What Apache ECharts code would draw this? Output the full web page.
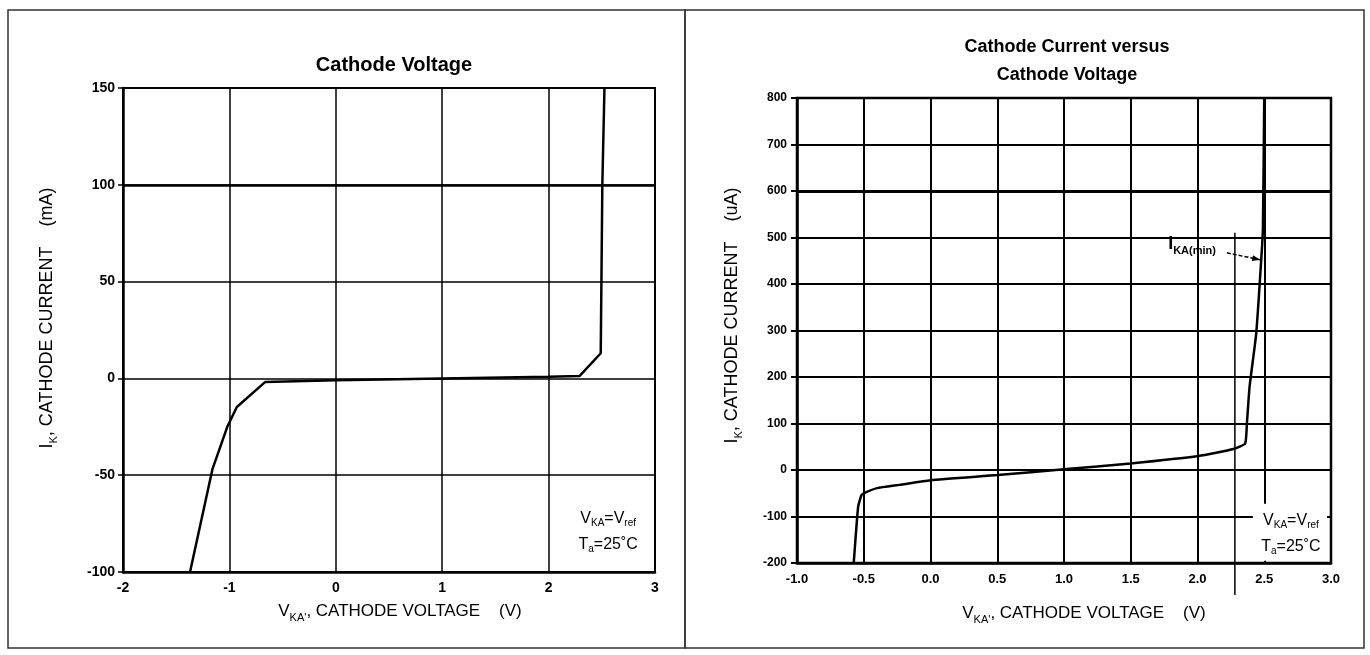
<!DOCTYPE html>
<html><head><meta charset="utf-8">
<script src="https://cdn.jsdelivr.net/npm/echarts@6/dist/echarts.min.js"></script>
<style>html,body{margin:0;padding:0;background:#fff}#c{width:1370px;height:655px}</style>
</head><body><div id="c"></div>
<script>
// Left chart (mA)
var leftVoltage = [-1.37, -1.16, -1.02, -0.93, -0.665, 0, 1, 2, 2.29, 2.49, 2.505, 2.525];
var leftCurrent = [-100, -47, -25, -14.8, -1.9, -1, 0, 0.8, 1.2, 13, 100, 150];
var leftXTicks = [-2, -1, 0, 1, 2, 3];
var leftYTicks = [-100, -50, 0, 50, 100, 150];
// Right chart (uA)
var rightVoltage = [-0.575, -0.542, -0.517, -0.493, -0.40, -0.231, 0, 0.502, 1.0, 1.498, 2.007, 2.27, 2.357, 2.37, 2.39, 2.44, 2.478, 2.49, 2.5];
var rightCurrent = [-200, -79, -54, -49, -39, -32, -22, -11, 1.5, 14, 30, 45, 57, 100, 179, 294, 455, 520, 800];
var rightXTicks = [-1.0, -0.5, 0.0, 0.5, 1.0, 1.5, 2.0, 2.5, 3.0];
var rightYTicks = [-200, -100, 0, 100, 200, 300, 400, 500, 600, 700, 800];
// Heavier grid lines in the original
var leftHeavyY = [100];
var rightHeavyY = [600];
// Annotations
var ikaMinVoltage = 2.28;
var ikaMinTop = 510;
var ikaLabelPos = [1.78, 485];
var ikaArrowFrom = [2.22, 467];
var ikaArrowTo = [2.47, 452];
var condLeftPos = [2.56, -79];
var condRightPos = [2.70, -137];

var FONT = 'Liberation Sans, Arial, sans-serif';
var NARROW = 'Liberation Sans Narrow, Liberation Sans, Arial, sans-serif';

function pairs(xs, ys) { return xs.map(function (x, i) { return [x, ys[i]]; }); }

function subRich(size) {
  return {
    n: { fontSize: size, fontFamily: FONT, color: '#000' },
    s: { fontSize: Math.round(size * 0.62), fontFamily: FONT, color: '#000', padding: [Math.round(size * 0.7), 0, 0, 0] }
  };
}

var chart = echarts.init(document.getElementById('c'), null, { renderer: 'canvas' });

chart.setOption({
  animation: false,
  backgroundColor: '#fff',
  title: [
    { text: 'Cathode Voltage', left: 389, top: 50, textAlign: 'center',
      textStyle: { fontSize: 20, fontWeight: 'bold', fontFamily: NARROW, color: '#000' } },
    { text: 'Cathode Current versus\nCathode Voltage', left: 1062, top: 28, textAlign: 'center',
      textStyle: { fontSize: 18, fontWeight: 'bold', fontFamily: NARROW, color: '#000', lineHeight: 28 } }
  ],
  grid: [
    { left: 123, top: 88, width: 532, height: 484, show: true, borderColor: '#000', borderWidth: 2, containLabel: false },
    { left: 797, top: 98, width: 534, height: 465, show: true, borderColor: '#000', borderWidth: 2.5, containLabel: false }
  ],
  xAxis: [
    { type: 'value', gridIndex: 0, min: leftXTicks[0], max: leftXTicks[leftXTicks.length - 1], interval: 1,
      axisLine: { onZero: false, lineStyle: { color: '#000', width: 2.5 } },
      axisTick: { show: false },
      axisLabel: { color: '#000', fontSize: 14, fontFamily: NARROW, fontWeight: 'bold', margin: 9 },
      splitLine: { lineStyle: { color: '#000', width: 1.5 } },
      name: '{n|V}{s|KA\'}{n|, CATHODE VOLTAGE    (V)}', nameLocation: 'middle', nameGap: 28,
      nameTextStyle: { rich: subRich(17), padding: [0, 0, 0, 22] } },
    { type: 'value', gridIndex: 1, min: rightXTicks[0], max: rightXTicks[rightXTicks.length - 1], interval: 0.5,
      axisLine: { onZero: false, lineStyle: { color: '#000', width: 2.5 } },
      axisTick: { show: false },
      axisLabel: { color: '#000', fontSize: 13, fontFamily: FONT, fontWeight: 'bold', margin: 10,
        formatter: function (v) { return v.toFixed(1); } },
      splitLine: { lineStyle: { color: '#000', width: 2 } },
      name: '{n|V}{s|KA\'}{n|, CATHODE VOLTAGE    (V)}', nameLocation: 'middle', nameGap: 39,
      nameTextStyle: { rich: subRich(17), padding: [0, 0, 0, 40] } }
  ],
  yAxis: [
    { type: 'value', gridIndex: 0, min: leftYTicks[0], max: leftYTicks[leftYTicks.length - 1], interval: 50,
      axisLine: { onZero: false, lineStyle: { color: '#000', width: 2.5 } },
      axisTick: { show: true, length: 5, lineStyle: { color: '#000', width: 1.5 } },
      axisLabel: { color: '#000', fontSize: 14, fontFamily: NARROW, fontWeight: 'bold', margin: 8 },
      splitLine: { lineStyle: { color: '#000', width: 1.5 } },
      name: '{n|I}{s|K}{n|, CATHODE CURRENT    (mA)}', nameLocation: 'middle', nameGap: 64, nameRotate: 90,
      nameTextStyle: { rich: subRich(18), padding: [0, 0, 0, 24] } },
    { type: 'value', gridIndex: 1, min: rightYTicks[0], max: rightYTicks[rightYTicks.length - 1], interval: 100,
      axisLine: { onZero: false, lineStyle: { color: '#000', width: 2.5 } },
      axisTick: { show: true, length: 6, lineStyle: { color: '#000', width: 2 } },
      axisLabel: { color: '#000', fontSize: 12, fontFamily: FONT, fontWeight: 'bold', margin: 10 },
      splitLine: { lineStyle: { color: '#000', width: 2 } },
      name: '{n|I}{s|K}{n|, CATHODE CURRENT    (uA)}', nameLocation: 'middle', nameGap: 53, nameRotate: 90,
      nameTextStyle: { rich: subRich(18), padding: [0, 0, 0, 30] } }
  ],
  series: [
    { type: 'line', xAxisIndex: 0, yAxisIndex: 0, data: pairs(leftVoltage, leftCurrent),
      showSymbol: false, lineStyle: { color: '#000', width: 2.5 }, z: 5,
      markLine: { silent: true, symbol: 'none', label: { show: false }, animation: false,
        lineStyle: { color: '#000', width: 2.5, type: 'solid' },
        data: leftHeavyY.map(function (v) { return { yAxis: v }; }) } },
    { type: 'line', xAxisIndex: 1, yAxisIndex: 1, data: pairs(rightVoltage, rightCurrent),
      showSymbol: false, smooth: 0.15, lineStyle: { color: '#000', width: 2.5 }, z: 5,
      markLine: { silent: true, symbol: 'none', label: { show: false }, animation: false,
        lineStyle: { color: '#000', width: 3, type: 'solid' },
        data: rightHeavyY.map(function (v) { return { yAxis: v }; }) } }
  ]
});

function px(grid, pt) { return chart.convertToPixel({ gridIndex: grid }, pt); }

var condRich = {
  b: { fontSize: 16, fontFamily: NARROW, color: '#000' },
  s: { fontSize: 10, fontFamily: NARROW, color: '#000', padding: [10, 0, 0, 0] }
};

var cl = px(0, condLeftPos);
var cr = px(1, condRightPos);
var vTop = px(1, [ikaMinVoltage, ikaMinTop]);
var vBot = px(1, [ikaMinVoltage, rightYTicks[0]]);
var lab = px(1, ikaLabelPos);
var af = px(1, ikaArrowFrom);
var at = px(1, ikaArrowTo);
var ang = Math.atan2(at[1] - af[1], at[0] - af[0]);

chart.setOption({
  graphic: [
    { type: 'rect', shape: { x: 8, y: 10, width: 677, height: 638 }, style: { fill: 'none', stroke: '#333', lineWidth: 1.5 }, z: 100 },
    { type: 'rect', shape: { x: 685, y: 10, width: 679, height: 638 }, style: { fill: 'none', stroke: '#333', lineWidth: 1.5 }, z: 100 },
    { type: 'text', x: cl[0], y: cl[1], z: 50,
      style: { text: '{b|V}{s|KA}{b|=V}{s|ref}\n{b|T}{s|a}{b|=25˚C}', rich: condRich, align: 'center', verticalAlign: 'middle', lineHeight: 26 } },
    { type: 'rect', shape: { x: cr[0] - 38, y: cr[1] - 30, width: 74, height: 57 }, style: { fill: '#fff' }, z: 40 },
    { type: 'text', x: cr[0], y: cr[1], z: 50,
      style: { text: '{b|V}{s|KA}{b|=V}{s|ref}\n{b|T}{s|a}{b|=25˚C}', rich: condRich, align: 'center', verticalAlign: 'middle', lineHeight: 26 } },
    { type: 'line', shape: { x1: vTop[0], y1: vTop[1], x2: vBot[0], y2: vBot[1] + 32 }, style: { stroke: '#000', lineWidth: 1.5 }, z: 50 },
    { type: 'text', x: lab[0], y: lab[1], z: 50,
      style: { text: '{i|I}{k|KA(min)}', rich: { i: { fontSize: 18, fontFamily: FONT, fontWeight: 'bold', color: '#000' }, k: { fontSize: 11, fontFamily: FONT, fontWeight: 'bold', color: '#000', padding: [12, 0, 0, 0] } }, align: 'left', verticalAlign: 'middle' } },
    { type: 'line', shape: { x1: af[0], y1: af[1], x2: at[0], y2: at[1] }, style: { stroke: '#000', lineWidth: 1.5, lineDash: [4, 2] }, z: 50 },
    { type: 'polygon', z: 50, shape: { points: [
        [at[0], at[1]],
        [at[0] - 8 * Math.cos(ang) + 3 * Math.sin(ang), at[1] - 8 * Math.sin(ang) - 3 * Math.cos(ang)],
        [at[0] - 8 * Math.cos(ang) - 3 * Math.sin(ang), at[1] - 8 * Math.sin(ang) + 3 * Math.cos(ang)]
      ] }, style: { fill: '#000' } }
  ]
});
</script>
</body></html>
